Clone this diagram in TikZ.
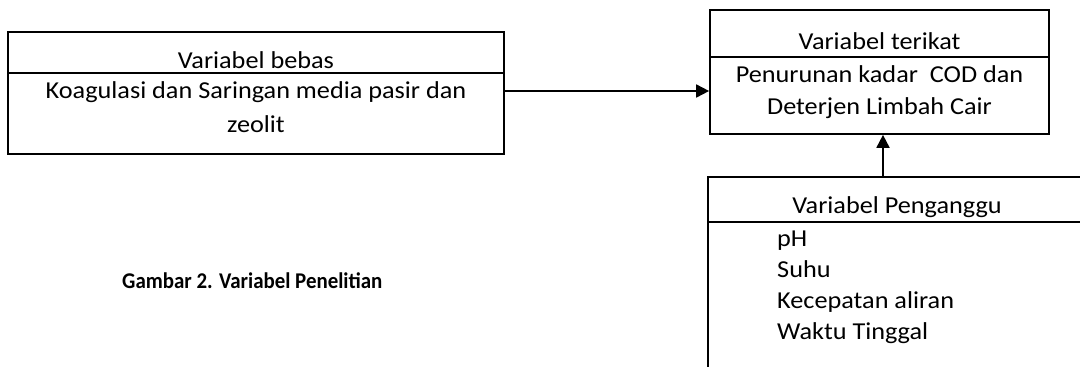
\documentclass[tikz,border=0pt]{standalone}
\usepackage{fontspec}
\setmainfont{Carlito}[FakeStretch=1.08]
\newfontfamily\capfont{Carlito}[FakeStretch=0.93]
\usetikzlibrary{arrows.meta,calc}
\begin{document}
\begin{tikzpicture}[x=1pt,y=-1pt,
  box/.style={draw,line width=1.7pt,inner sep=0pt},
  rule/.style={line width=1.7pt},
  lbl/.style={inner sep=0pt,anchor=base,font=\fontsize{24.3}{29}\selectfont},
  arr/.style={line width=1.8pt,-{Triangle[length=13pt,width=13pt]}}]
\useasboundingbox (0,0) rectangle (1080,367);
\clip (0,0) rectangle (1080,367);

% independent variable box
\node[box,minimum width=496pt,minimum height=122pt] (bebas) at (256,93) {};
\draw[rule] (8,73) -- (504,73);
\node[lbl] (bebasT) at (256,68) {Variabel bebas};
\node[lbl] (bebasA) at (256,98) {Koagulasi dan Saringan media pasir dan};
\node[lbl] (bebasB) at (256,132) {zeolit};

% dependent variable box
\node[box,minimum width=339pt,minimum height=124pt] (terikat) at (879.5,72) {};
\draw[rule] (710,57) -- (1049,57);
\node[lbl] (terikatT) at (879.5,49) {Variabel terikat};
\node[lbl] (terikatA) at (879.5,82) {Penurunan kadar\ \ COD dan};
\node[lbl] (terikatB) at (879.5,114) {Deterjen Limbah Cair};

% confounding variable box (runs past the page edge)
\node[box,minimum width=400pt,minimum height=240pt] (ganggu) at (908,297) {};
\draw[rule] (708,222) -- (1110,222);
\node[lbl] (gangguT) at (897,213) {Variabel Penganggu};
\node[lbl,anchor=base west] (g1) at (777,246) {pH};
\node[lbl,anchor=base west] (g2) at (777,277) {Suhu};
\node[lbl,anchor=base west] (g3) at (777,308) {Kecepatan aliran};
\node[lbl,anchor=base west] (g4) at (777,339) {Waktu Tinggal};

% caption
\node[lbl,anchor=base west,font=\capfont\fontsize{22.5}{27}\selectfont\bfseries] (cap) at (122,288) {Gambar 2. Variabel Penelitian};

% connectors
\coordinate (aS) at ([yshift=2pt]bebas.east);
\draw[arr] (aS) -- (aS -| terikat.west);
\coordinate (bS) at (883,177);
\draw[arr] (bS) -- (bS |- terikat.south);
\end{tikzpicture}
\end{document}
